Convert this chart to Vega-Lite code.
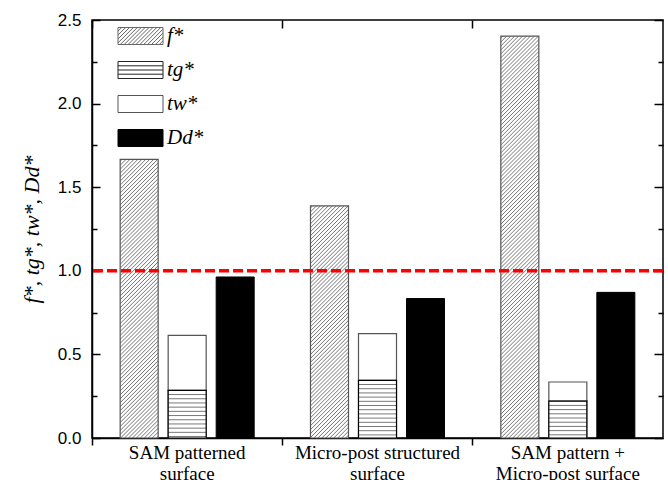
{
 "$schema": "https://vega.github.io/schema/vega-lite/v6.json",
 "width": 571, "height": 418,
 "autosize": {"type": "none"},
 "padding": {"left": 92, "top": 20, "right": 5, "bottom": 42},
 "background": "white",
 "config": {
  "view": {"stroke": "black", "strokeWidth": 1.5},
  "axis": {"domainColor": "black", "domainWidth": 1.5, "tickColor": "black", "tickWidth": 1.5, "labelColor": "black", "titleColor": "black", "grid": false}
 },
 "data": {"values": [
  {"group": "SAM patterned|surface", "slot": "f", "series": "f*", "value": 1.667},
  {"group": "SAM patterned|surface", "slot": "t", "series": "tg*", "value": 0.285},
  {"group": "SAM patterned|surface", "slot": "t", "series": "tw*", "value": 0.329},
  {"group": "SAM patterned|surface", "slot": "D", "series": "Dd*", "value": 0.963},
  {"group": "Micro-post structured|surface", "slot": "f", "series": "f*", "value": 1.388},
  {"group": "Micro-post structured|surface", "slot": "t", "series": "tg*", "value": 0.345},
  {"group": "Micro-post structured|surface", "slot": "t", "series": "tw*", "value": 0.279},
  {"group": "Micro-post structured|surface", "slot": "D", "series": "Dd*", "value": 0.834},
  {"group": "SAM pattern +|Micro-post surface", "slot": "f", "series": "f*", "value": 2.404},
  {"group": "SAM pattern +|Micro-post surface", "slot": "t", "series": "tg*", "value": 0.22},
  {"group": "SAM pattern +|Micro-post surface", "slot": "t", "series": "tw*", "value": 0.115},
  {"group": "SAM pattern +|Micro-post surface", "slot": "D", "series": "Dd*", "value": 0.871}
 ]},
 "resolve": {"axis": {"x": "independent", "y": "independent"}},
 "layer": [
  {
   "transform": [{"filter": "datum.slot === 't'"}],
   "mark": {"type": "bar", "fill": "#ffffff", "stroke": "#555555", "strokeWidth": 1.2},
   "encoding": {
    "x": {"field": "group", "type": "nominal", "scale": {"domain": ["SAM patterned|surface", "Micro-post structured|surface", "SAM pattern +|Micro-post surface"], "paddingInner": 0, "paddingOuter": 0}, "title": null,
     "axis": {"orient": "bottom", "bandPosition": 0, "labelOffset": 0, "labelAngle": 0, "labelExpr": "split(datum.label, '|')", "labelFont": "Liberation Serif", "labelFontSize": 19, "labelLineHeight": 21, "labelPadding": -2, "labelBaseline": "top", "tickSize": 7, "domain": true}},
    "xOffset": {"field": "slot", "type": "nominal", "scale": {"domain": ["f", "t", "D"], "paddingInner": 0.2083, "paddingOuter": 0.5865}},
    "y": {"field": "value", "type": "quantitative", "stack": "zero", "scale": {"domain": [0, 2.5], "nice": false},
     "axis": {"orient": "left", "values": [0, 0.25, 0.5, 0.75, 1, 1.25, 1.5, 1.75, 2, 2.25, 2.5], "labelExpr": "datum.value % 0.5 == 0 ? format(datum.value, '.1f') : ''", "tickSize": {"condition": {"test": "datum.value % 0.5 == 0", "value": -8}, "value": -5}, "labelPadding": 19, "labelFont": "Liberation Sans", "labelFontSize": 17, "domain": true,
      "title": "f*, tg*, tw*, Dd*", "titleFont": "Liberation Serif", "titleFontStyle": "italic", "titleFontWeight": "normal", "titleFontSize": 22, "titleX": -61, "titleY": 209, "titleAngle": 270, "titleBaseline": "middle", "titleAlign": "center"}},
    "detail": {"field": "series"},
    "order": {"field": "series", "sort": "ascending"}
   }
  },
  {
   "transform": [{"filter": "datum.series === 'tg*' && datum.group === 'SAM patterned|surface'"}],
   "mark": {"type": "bar", "stroke": "#000000", "strokeWidth": 1.2, "fill": {"gradient": "linear", "x1": 0, "y1": 0, "x2": 0, "y2": 1, "stops": [
    {"offset":0.0671,"color":"#fff"},{"offset":0.0881,"color":"#777"},{"offset":0.1091,"color":"#fff"},
    {"offset":0.1553,"color":"#fff"},{"offset":0.1763,"color":"#777"},{"offset":0.1973,"color":"#fff"},
    {"offset":0.2434,"color":"#fff"},{"offset":0.2644,"color":"#777"},{"offset":0.2854,"color":"#fff"},
    {"offset":0.3316,"color":"#fff"},{"offset":0.3526,"color":"#777"},{"offset":0.3736,"color":"#fff"},
    {"offset":0.4197,"color":"#fff"},{"offset":0.4407,"color":"#777"},{"offset":0.4617,"color":"#fff"},
    {"offset":0.5078,"color":"#fff"},{"offset":0.5288,"color":"#777"},{"offset":0.5498,"color":"#fff"},
    {"offset":0.596,"color":"#fff"},{"offset":0.617,"color":"#777"},{"offset":0.638,"color":"#fff"},
    {"offset":0.6841,"color":"#fff"},{"offset":0.7051,"color":"#777"},{"offset":0.7261,"color":"#fff"},
    {"offset":0.7723,"color":"#fff"},{"offset":0.7933,"color":"#777"},{"offset":0.8143,"color":"#fff"},
    {"offset":0.8604,"color":"#fff"},{"offset":0.8814,"color":"#777"},{"offset":0.9024,"color":"#fff"},
    {"offset":0.9485,"color":"#fff"},{"offset":0.9695,"color":"#777"},{"offset":0.9905,"color":"#fff"}]}},
   "encoding": {
    "x": {"field": "group", "type": "nominal", "scale": {"domain": ["SAM patterned|surface", "Micro-post structured|surface", "SAM pattern +|Micro-post surface"], "paddingInner": 0, "paddingOuter": 0}, "axis": null},
    "xOffset": {"field": "slot", "type": "nominal", "scale": {"domain": ["f", "t", "D"], "paddingInner": 0.2083, "paddingOuter": 0.5865}},
    "y": {"field": "value", "type": "quantitative", "scale": {"domain": [0, 2.5], "nice": false}, "axis": null}
   }
  },
  {
   "transform": [{"filter": "datum.series === 'tg*' && datum.group === 'Micro-post structured|surface'"}],
   "mark": {"type": "bar", "stroke": "#000000", "strokeWidth": 1.2, "fill": {"gradient": "linear", "x1": 0, "y1": 0, "x2": 0, "y2": 1, "stops": [
    {"offset":0.0558,"color":"#fff"},{"offset":0.0728,"color":"#777"},{"offset":0.0898,"color":"#fff"},
    {"offset":0.1286,"color":"#fff"},{"offset":0.1456,"color":"#777"},{"offset":0.1626,"color":"#fff"},
    {"offset":0.2014,"color":"#fff"},{"offset":0.2184,"color":"#777"},{"offset":0.2354,"color":"#fff"},
    {"offset":0.2742,"color":"#fff"},{"offset":0.2912,"color":"#777"},{"offset":0.3082,"color":"#fff"},
    {"offset":0.347,"color":"#fff"},{"offset":0.364,"color":"#777"},{"offset":0.381,"color":"#fff"},
    {"offset":0.4198,"color":"#fff"},{"offset":0.4368,"color":"#777"},{"offset":0.4538,"color":"#fff"},
    {"offset":0.4926,"color":"#fff"},{"offset":0.5096,"color":"#777"},{"offset":0.5266,"color":"#fff"},
    {"offset":0.5654,"color":"#fff"},{"offset":0.5824,"color":"#777"},{"offset":0.5994,"color":"#fff"},
    {"offset":0.6382,"color":"#fff"},{"offset":0.6552,"color":"#777"},{"offset":0.6722,"color":"#fff"},
    {"offset":0.711,"color":"#fff"},{"offset":0.728,"color":"#777"},{"offset":0.745,"color":"#fff"},
    {"offset":0.7838,"color":"#fff"},{"offset":0.8008,"color":"#777"},{"offset":0.8178,"color":"#fff"},
    {"offset":0.8566,"color":"#fff"},{"offset":0.8736,"color":"#777"},{"offset":0.8906,"color":"#fff"},
    {"offset":0.9294,"color":"#fff"},{"offset":0.9464,"color":"#777"},{"offset":0.9634,"color":"#fff"}]}},
   "encoding": {
    "x": {"field": "group", "type": "nominal", "scale": {"domain": ["SAM patterned|surface", "Micro-post structured|surface", "SAM pattern +|Micro-post surface"], "paddingInner": 0, "paddingOuter": 0}, "axis": null},
    "xOffset": {"field": "slot", "type": "nominal", "scale": {"domain": ["f", "t", "D"], "paddingInner": 0.2083, "paddingOuter": 0.5865}},
    "y": {"field": "value", "type": "quantitative", "scale": {"domain": [0, 2.5], "nice": false}, "axis": null}
   }
  },
  {
   "transform": [{"filter": "datum.series === 'tg*' && datum.group === 'SAM pattern +|Micro-post surface'"}],
   "mark": {"type": "bar", "stroke": "#000000", "strokeWidth": 1.2, "fill": {"gradient": "linear", "x1": 0, "y1": 0, "x2": 0, "y2": 1, "stops": [
    {"offset":0.0871,"color":"#fff"},{"offset":0.1141,"color":"#777"},{"offset":0.1411,"color":"#fff"},
    {"offset":0.2013,"color":"#fff"},{"offset":0.2283,"color":"#777"},{"offset":0.2553,"color":"#fff"},
    {"offset":0.3154,"color":"#fff"},{"offset":0.3424,"color":"#777"},{"offset":0.3694,"color":"#fff"},
    {"offset":0.4295,"color":"#fff"},{"offset":0.4565,"color":"#777"},{"offset":0.4835,"color":"#fff"},
    {"offset":0.5437,"color":"#fff"},{"offset":0.5707,"color":"#777"},{"offset":0.5977,"color":"#fff"},
    {"offset":0.6578,"color":"#fff"},{"offset":0.6848,"color":"#777"},{"offset":0.7118,"color":"#fff"},
    {"offset":0.7719,"color":"#fff"},{"offset":0.7989,"color":"#777"},{"offset":0.8259,"color":"#fff"},
    {"offset":0.886,"color":"#fff"},{"offset":0.913,"color":"#777"},{"offset":0.94,"color":"#fff"}]}},
   "encoding": {
    "x": {"field": "group", "type": "nominal", "scale": {"domain": ["SAM patterned|surface", "Micro-post structured|surface", "SAM pattern +|Micro-post surface"], "paddingInner": 0, "paddingOuter": 0}, "axis": null},
    "xOffset": {"field": "slot", "type": "nominal", "scale": {"domain": ["f", "t", "D"], "paddingInner": 0.2083, "paddingOuter": 0.5865}},
    "y": {"field": "value", "type": "quantitative", "scale": {"domain": [0, 2.5], "nice": false}, "axis": null}
   }
  },
  {
   "transform": [{"filter": "datum.series === 'f*' && datum.group === 'SAM patterned|surface'"}],
   "mark": {"type": "bar", "stroke": "#555555", "strokeWidth": 1.2, "fill": {"gradient": "linear", "x1": 0, "y1": 0, "x2": 0.1521, "y2": 1.1156, "stops": [
    {"offset":0.003,"color":"#fff"},{"offset":0.0063,"color":"#777"},{"offset":0.0095,"color":"#fff"},{"offset":0.0155,"color":"#fff"},{"offset":0.0188,"color":"#777"},{"offset":0.022,"color":"#fff"},{"offset":0.028,"color":"#fff"},{"offset":0.0313,"color":"#777"},{"offset":0.0345,"color":"#fff"},{"offset":0.0405,"color":"#fff"},{"offset":0.0438,"color":"#777"},{"offset":0.047,"color":"#fff"},
    {"offset":0.053,"color":"#fff"},{"offset":0.0563,"color":"#777"},{"offset":0.0595,"color":"#fff"},{"offset":0.0655,"color":"#fff"},{"offset":0.0688,"color":"#777"},{"offset":0.072,"color":"#fff"},{"offset":0.078,"color":"#fff"},{"offset":0.0813,"color":"#777"},{"offset":0.0845,"color":"#fff"},{"offset":0.0905,"color":"#fff"},{"offset":0.0938,"color":"#777"},{"offset":0.097,"color":"#fff"},
    {"offset":0.103,"color":"#fff"},{"offset":0.1063,"color":"#777"},{"offset":0.1095,"color":"#fff"},{"offset":0.1155,"color":"#fff"},{"offset":0.1188,"color":"#777"},{"offset":0.122,"color":"#fff"},{"offset":0.128,"color":"#fff"},{"offset":0.1313,"color":"#777"},{"offset":0.1345,"color":"#fff"},{"offset":0.1405,"color":"#fff"},{"offset":0.1438,"color":"#777"},{"offset":0.147,"color":"#fff"},
    {"offset":0.153,"color":"#fff"},{"offset":0.1563,"color":"#777"},{"offset":0.1595,"color":"#fff"},{"offset":0.1655,"color":"#fff"},{"offset":0.1688,"color":"#777"},{"offset":0.172,"color":"#fff"},{"offset":0.178,"color":"#fff"},{"offset":0.1813,"color":"#777"},{"offset":0.1845,"color":"#fff"},{"offset":0.1905,"color":"#fff"},{"offset":0.1938,"color":"#777"},{"offset":0.197,"color":"#fff"},
    {"offset":0.203,"color":"#fff"},{"offset":0.2063,"color":"#777"},{"offset":0.2095,"color":"#fff"},{"offset":0.2155,"color":"#fff"},{"offset":0.2188,"color":"#777"},{"offset":0.222,"color":"#fff"},{"offset":0.228,"color":"#fff"},{"offset":0.2313,"color":"#777"},{"offset":0.2345,"color":"#fff"},{"offset":0.2405,"color":"#fff"},{"offset":0.2438,"color":"#777"},{"offset":0.247,"color":"#fff"},
    {"offset":0.253,"color":"#fff"},{"offset":0.2563,"color":"#777"},{"offset":0.2595,"color":"#fff"},{"offset":0.2655,"color":"#fff"},{"offset":0.2688,"color":"#777"},{"offset":0.272,"color":"#fff"},{"offset":0.278,"color":"#fff"},{"offset":0.2813,"color":"#777"},{"offset":0.2845,"color":"#fff"},{"offset":0.2905,"color":"#fff"},{"offset":0.2938,"color":"#777"},{"offset":0.297,"color":"#fff"},
    {"offset":0.303,"color":"#fff"},{"offset":0.3063,"color":"#777"},{"offset":0.3095,"color":"#fff"},{"offset":0.3155,"color":"#fff"},{"offset":0.3188,"color":"#777"},{"offset":0.322,"color":"#fff"},{"offset":0.328,"color":"#fff"},{"offset":0.3313,"color":"#777"},{"offset":0.3345,"color":"#fff"},{"offset":0.3405,"color":"#fff"},{"offset":0.3438,"color":"#777"},{"offset":0.347,"color":"#fff"},
    {"offset":0.353,"color":"#fff"},{"offset":0.3563,"color":"#777"},{"offset":0.3595,"color":"#fff"},{"offset":0.3655,"color":"#fff"},{"offset":0.3688,"color":"#777"},{"offset":0.372,"color":"#fff"},{"offset":0.378,"color":"#fff"},{"offset":0.3813,"color":"#777"},{"offset":0.3845,"color":"#fff"},{"offset":0.3905,"color":"#fff"},{"offset":0.3938,"color":"#777"},{"offset":0.397,"color":"#fff"},
    {"offset":0.403,"color":"#fff"},{"offset":0.4063,"color":"#777"},{"offset":0.4095,"color":"#fff"},{"offset":0.4155,"color":"#fff"},{"offset":0.4188,"color":"#777"},{"offset":0.422,"color":"#fff"},{"offset":0.428,"color":"#fff"},{"offset":0.4313,"color":"#777"},{"offset":0.4345,"color":"#fff"},{"offset":0.4405,"color":"#fff"},{"offset":0.4438,"color":"#777"},{"offset":0.447,"color":"#fff"},
    {"offset":0.453,"color":"#fff"},{"offset":0.4563,"color":"#777"},{"offset":0.4595,"color":"#fff"},{"offset":0.4655,"color":"#fff"},{"offset":0.4688,"color":"#777"},{"offset":0.472,"color":"#fff"},{"offset":0.478,"color":"#fff"},{"offset":0.4813,"color":"#777"},{"offset":0.4845,"color":"#fff"},{"offset":0.4905,"color":"#fff"},{"offset":0.4938,"color":"#777"},{"offset":0.497,"color":"#fff"},
    {"offset":0.503,"color":"#fff"},{"offset":0.5063,"color":"#777"},{"offset":0.5095,"color":"#fff"},{"offset":0.5155,"color":"#fff"},{"offset":0.5188,"color":"#777"},{"offset":0.522,"color":"#fff"},{"offset":0.528,"color":"#fff"},{"offset":0.5313,"color":"#777"},{"offset":0.5345,"color":"#fff"},{"offset":0.5405,"color":"#fff"},{"offset":0.5438,"color":"#777"},{"offset":0.547,"color":"#fff"},
    {"offset":0.553,"color":"#fff"},{"offset":0.5563,"color":"#777"},{"offset":0.5595,"color":"#fff"},{"offset":0.5655,"color":"#fff"},{"offset":0.5688,"color":"#777"},{"offset":0.572,"color":"#fff"},{"offset":0.578,"color":"#fff"},{"offset":0.5813,"color":"#777"},{"offset":0.5845,"color":"#fff"},{"offset":0.5905,"color":"#fff"},{"offset":0.5938,"color":"#777"},{"offset":0.597,"color":"#fff"},
    {"offset":0.603,"color":"#fff"},{"offset":0.6063,"color":"#777"},{"offset":0.6095,"color":"#fff"},{"offset":0.6155,"color":"#fff"},{"offset":0.6188,"color":"#777"},{"offset":0.622,"color":"#fff"},{"offset":0.628,"color":"#fff"},{"offset":0.6313,"color":"#777"},{"offset":0.6345,"color":"#fff"},{"offset":0.6405,"color":"#fff"},{"offset":0.6438,"color":"#777"},{"offset":0.647,"color":"#fff"},
    {"offset":0.653,"color":"#fff"},{"offset":0.6563,"color":"#777"},{"offset":0.6595,"color":"#fff"},{"offset":0.6655,"color":"#fff"},{"offset":0.6688,"color":"#777"},{"offset":0.672,"color":"#fff"},{"offset":0.678,"color":"#fff"},{"offset":0.6813,"color":"#777"},{"offset":0.6845,"color":"#fff"},{"offset":0.6905,"color":"#fff"},{"offset":0.6938,"color":"#777"},{"offset":0.697,"color":"#fff"},
    {"offset":0.703,"color":"#fff"},{"offset":0.7063,"color":"#777"},{"offset":0.7095,"color":"#fff"},{"offset":0.7155,"color":"#fff"},{"offset":0.7188,"color":"#777"},{"offset":0.722,"color":"#fff"},{"offset":0.728,"color":"#fff"},{"offset":0.7313,"color":"#777"},{"offset":0.7345,"color":"#fff"},{"offset":0.7405,"color":"#fff"},{"offset":0.7438,"color":"#777"},{"offset":0.747,"color":"#fff"},
    {"offset":0.753,"color":"#fff"},{"offset":0.7563,"color":"#777"},{"offset":0.7595,"color":"#fff"},{"offset":0.7655,"color":"#fff"},{"offset":0.7688,"color":"#777"},{"offset":0.772,"color":"#fff"},{"offset":0.778,"color":"#fff"},{"offset":0.7813,"color":"#777"},{"offset":0.7845,"color":"#fff"},{"offset":0.7905,"color":"#fff"},{"offset":0.7938,"color":"#777"},{"offset":0.797,"color":"#fff"},
    {"offset":0.803,"color":"#fff"},{"offset":0.8063,"color":"#777"},{"offset":0.8095,"color":"#fff"},{"offset":0.8155,"color":"#fff"},{"offset":0.8188,"color":"#777"},{"offset":0.822,"color":"#fff"},{"offset":0.828,"color":"#fff"},{"offset":0.8313,"color":"#777"},{"offset":0.8345,"color":"#fff"},{"offset":0.8405,"color":"#fff"},{"offset":0.8438,"color":"#777"},{"offset":0.847,"color":"#fff"},
    {"offset":0.853,"color":"#fff"},{"offset":0.8563,"color":"#777"},{"offset":0.8595,"color":"#fff"},{"offset":0.8655,"color":"#fff"},{"offset":0.8688,"color":"#777"},{"offset":0.872,"color":"#fff"},{"offset":0.878,"color":"#fff"},{"offset":0.8813,"color":"#777"},{"offset":0.8845,"color":"#fff"},{"offset":0.8905,"color":"#fff"},{"offset":0.8938,"color":"#777"},{"offset":0.897,"color":"#fff"},
    {"offset":0.903,"color":"#fff"},{"offset":0.9063,"color":"#777"},{"offset":0.9095,"color":"#fff"},{"offset":0.9155,"color":"#fff"},{"offset":0.9188,"color":"#777"},{"offset":0.922,"color":"#fff"},{"offset":0.928,"color":"#fff"},{"offset":0.9313,"color":"#777"},{"offset":0.9345,"color":"#fff"},{"offset":0.9405,"color":"#fff"},{"offset":0.9438,"color":"#777"},{"offset":0.947,"color":"#fff"},
    {"offset":0.953,"color":"#fff"},{"offset":0.9563,"color":"#777"},{"offset":0.9595,"color":"#fff"},{"offset":0.9655,"color":"#fff"},{"offset":0.9688,"color":"#777"},{"offset":0.972,"color":"#fff"},{"offset":0.978,"color":"#fff"},{"offset":0.9813,"color":"#777"},{"offset":0.9845,"color":"#fff"},{"offset":0.9905,"color":"#fff"},{"offset":0.9938,"color":"#777"},{"offset":0.997,"color":"#fff"}]}},
   "encoding": {
    "x": {"field": "group", "type": "nominal", "scale": {"domain": ["SAM patterned|surface", "Micro-post structured|surface", "SAM pattern +|Micro-post surface"], "paddingInner": 0, "paddingOuter": 0}, "axis": null},
    "xOffset": {"field": "slot", "type": "nominal", "scale": {"domain": ["f", "t", "D"], "paddingInner": 0.2083, "paddingOuter": 0.5865}},
    "y": {"field": "value", "type": "quantitative", "scale": {"domain": [0, 2.5], "nice": false}, "axis": null}
   }
  },
  {
   "transform": [{"filter": "datum.series === 'f*' && datum.group === 'Micro-post structured|surface'"}],
   "mark": {"type": "bar", "stroke": "#555555", "strokeWidth": 1.2, "fill": {"gradient": "linear", "x1": 0, "y1": 0, "x2": 0.2176, "y2": 1.3291, "stops": [
    {"offset":0.003,"color":"#fff"},{"offset":0.0063,"color":"#777"},{"offset":0.0095,"color":"#fff"},{"offset":0.0155,"color":"#fff"},{"offset":0.0188,"color":"#777"},{"offset":0.022,"color":"#fff"},{"offset":0.028,"color":"#fff"},{"offset":0.0313,"color":"#777"},{"offset":0.0345,"color":"#fff"},{"offset":0.0405,"color":"#fff"},{"offset":0.0438,"color":"#777"},{"offset":0.047,"color":"#fff"},
    {"offset":0.053,"color":"#fff"},{"offset":0.0563,"color":"#777"},{"offset":0.0595,"color":"#fff"},{"offset":0.0655,"color":"#fff"},{"offset":0.0688,"color":"#777"},{"offset":0.072,"color":"#fff"},{"offset":0.078,"color":"#fff"},{"offset":0.0813,"color":"#777"},{"offset":0.0845,"color":"#fff"},{"offset":0.0905,"color":"#fff"},{"offset":0.0938,"color":"#777"},{"offset":0.097,"color":"#fff"},
    {"offset":0.103,"color":"#fff"},{"offset":0.1063,"color":"#777"},{"offset":0.1095,"color":"#fff"},{"offset":0.1155,"color":"#fff"},{"offset":0.1188,"color":"#777"},{"offset":0.122,"color":"#fff"},{"offset":0.128,"color":"#fff"},{"offset":0.1313,"color":"#777"},{"offset":0.1345,"color":"#fff"},{"offset":0.1405,"color":"#fff"},{"offset":0.1438,"color":"#777"},{"offset":0.147,"color":"#fff"},
    {"offset":0.153,"color":"#fff"},{"offset":0.1563,"color":"#777"},{"offset":0.1595,"color":"#fff"},{"offset":0.1655,"color":"#fff"},{"offset":0.1688,"color":"#777"},{"offset":0.172,"color":"#fff"},{"offset":0.178,"color":"#fff"},{"offset":0.1813,"color":"#777"},{"offset":0.1845,"color":"#fff"},{"offset":0.1905,"color":"#fff"},{"offset":0.1938,"color":"#777"},{"offset":0.197,"color":"#fff"},
    {"offset":0.203,"color":"#fff"},{"offset":0.2063,"color":"#777"},{"offset":0.2095,"color":"#fff"},{"offset":0.2155,"color":"#fff"},{"offset":0.2188,"color":"#777"},{"offset":0.222,"color":"#fff"},{"offset":0.228,"color":"#fff"},{"offset":0.2313,"color":"#777"},{"offset":0.2345,"color":"#fff"},{"offset":0.2405,"color":"#fff"},{"offset":0.2438,"color":"#777"},{"offset":0.247,"color":"#fff"},
    {"offset":0.253,"color":"#fff"},{"offset":0.2563,"color":"#777"},{"offset":0.2595,"color":"#fff"},{"offset":0.2655,"color":"#fff"},{"offset":0.2688,"color":"#777"},{"offset":0.272,"color":"#fff"},{"offset":0.278,"color":"#fff"},{"offset":0.2813,"color":"#777"},{"offset":0.2845,"color":"#fff"},{"offset":0.2905,"color":"#fff"},{"offset":0.2938,"color":"#777"},{"offset":0.297,"color":"#fff"},
    {"offset":0.303,"color":"#fff"},{"offset":0.3063,"color":"#777"},{"offset":0.3095,"color":"#fff"},{"offset":0.3155,"color":"#fff"},{"offset":0.3188,"color":"#777"},{"offset":0.322,"color":"#fff"},{"offset":0.328,"color":"#fff"},{"offset":0.3313,"color":"#777"},{"offset":0.3345,"color":"#fff"},{"offset":0.3405,"color":"#fff"},{"offset":0.3438,"color":"#777"},{"offset":0.347,"color":"#fff"},
    {"offset":0.353,"color":"#fff"},{"offset":0.3563,"color":"#777"},{"offset":0.3595,"color":"#fff"},{"offset":0.3655,"color":"#fff"},{"offset":0.3688,"color":"#777"},{"offset":0.372,"color":"#fff"},{"offset":0.378,"color":"#fff"},{"offset":0.3813,"color":"#777"},{"offset":0.3845,"color":"#fff"},{"offset":0.3905,"color":"#fff"},{"offset":0.3938,"color":"#777"},{"offset":0.397,"color":"#fff"},
    {"offset":0.403,"color":"#fff"},{"offset":0.4063,"color":"#777"},{"offset":0.4095,"color":"#fff"},{"offset":0.4155,"color":"#fff"},{"offset":0.4188,"color":"#777"},{"offset":0.422,"color":"#fff"},{"offset":0.428,"color":"#fff"},{"offset":0.4313,"color":"#777"},{"offset":0.4345,"color":"#fff"},{"offset":0.4405,"color":"#fff"},{"offset":0.4438,"color":"#777"},{"offset":0.447,"color":"#fff"},
    {"offset":0.453,"color":"#fff"},{"offset":0.4563,"color":"#777"},{"offset":0.4595,"color":"#fff"},{"offset":0.4655,"color":"#fff"},{"offset":0.4688,"color":"#777"},{"offset":0.472,"color":"#fff"},{"offset":0.478,"color":"#fff"},{"offset":0.4813,"color":"#777"},{"offset":0.4845,"color":"#fff"},{"offset":0.4905,"color":"#fff"},{"offset":0.4938,"color":"#777"},{"offset":0.497,"color":"#fff"},
    {"offset":0.503,"color":"#fff"},{"offset":0.5063,"color":"#777"},{"offset":0.5095,"color":"#fff"},{"offset":0.5155,"color":"#fff"},{"offset":0.5188,"color":"#777"},{"offset":0.522,"color":"#fff"},{"offset":0.528,"color":"#fff"},{"offset":0.5313,"color":"#777"},{"offset":0.5345,"color":"#fff"},{"offset":0.5405,"color":"#fff"},{"offset":0.5438,"color":"#777"},{"offset":0.547,"color":"#fff"},
    {"offset":0.553,"color":"#fff"},{"offset":0.5563,"color":"#777"},{"offset":0.5595,"color":"#fff"},{"offset":0.5655,"color":"#fff"},{"offset":0.5688,"color":"#777"},{"offset":0.572,"color":"#fff"},{"offset":0.578,"color":"#fff"},{"offset":0.5813,"color":"#777"},{"offset":0.5845,"color":"#fff"},{"offset":0.5905,"color":"#fff"},{"offset":0.5938,"color":"#777"},{"offset":0.597,"color":"#fff"},
    {"offset":0.603,"color":"#fff"},{"offset":0.6063,"color":"#777"},{"offset":0.6095,"color":"#fff"},{"offset":0.6155,"color":"#fff"},{"offset":0.6188,"color":"#777"},{"offset":0.622,"color":"#fff"},{"offset":0.628,"color":"#fff"},{"offset":0.6313,"color":"#777"},{"offset":0.6345,"color":"#fff"},{"offset":0.6405,"color":"#fff"},{"offset":0.6438,"color":"#777"},{"offset":0.647,"color":"#fff"},
    {"offset":0.653,"color":"#fff"},{"offset":0.6563,"color":"#777"},{"offset":0.6595,"color":"#fff"},{"offset":0.6655,"color":"#fff"},{"offset":0.6688,"color":"#777"},{"offset":0.672,"color":"#fff"},{"offset":0.678,"color":"#fff"},{"offset":0.6813,"color":"#777"},{"offset":0.6845,"color":"#fff"},{"offset":0.6905,"color":"#fff"},{"offset":0.6938,"color":"#777"},{"offset":0.697,"color":"#fff"},
    {"offset":0.703,"color":"#fff"},{"offset":0.7063,"color":"#777"},{"offset":0.7095,"color":"#fff"},{"offset":0.7155,"color":"#fff"},{"offset":0.7188,"color":"#777"},{"offset":0.722,"color":"#fff"},{"offset":0.728,"color":"#fff"},{"offset":0.7313,"color":"#777"},{"offset":0.7345,"color":"#fff"},{"offset":0.7405,"color":"#fff"},{"offset":0.7438,"color":"#777"},{"offset":0.747,"color":"#fff"},
    {"offset":0.753,"color":"#fff"},{"offset":0.7563,"color":"#777"},{"offset":0.7595,"color":"#fff"},{"offset":0.7655,"color":"#fff"},{"offset":0.7688,"color":"#777"},{"offset":0.772,"color":"#fff"},{"offset":0.778,"color":"#fff"},{"offset":0.7813,"color":"#777"},{"offset":0.7845,"color":"#fff"},{"offset":0.7905,"color":"#fff"},{"offset":0.7938,"color":"#777"},{"offset":0.797,"color":"#fff"},
    {"offset":0.803,"color":"#fff"},{"offset":0.8063,"color":"#777"},{"offset":0.8095,"color":"#fff"},{"offset":0.8155,"color":"#fff"},{"offset":0.8188,"color":"#777"},{"offset":0.822,"color":"#fff"},{"offset":0.828,"color":"#fff"},{"offset":0.8313,"color":"#777"},{"offset":0.8345,"color":"#fff"},{"offset":0.8405,"color":"#fff"},{"offset":0.8438,"color":"#777"},{"offset":0.847,"color":"#fff"},
    {"offset":0.853,"color":"#fff"},{"offset":0.8563,"color":"#777"},{"offset":0.8595,"color":"#fff"}]}},
   "encoding": {
    "x": {"field": "group", "type": "nominal", "scale": {"domain": ["SAM patterned|surface", "Micro-post structured|surface", "SAM pattern +|Micro-post surface"], "paddingInner": 0, "paddingOuter": 0}, "axis": null},
    "xOffset": {"field": "slot", "type": "nominal", "scale": {"domain": ["f", "t", "D"], "paddingInner": 0.2083, "paddingOuter": 0.5865}},
    "y": {"field": "value", "type": "quantitative", "scale": {"domain": [0, 2.5], "nice": false}, "axis": null}
   }
  },
  {
   "transform": [{"filter": "datum.series === 'f*' && datum.group === 'SAM pattern +|Micro-post surface'"}],
   "mark": {"type": "bar", "stroke": "#555555", "strokeWidth": 1.2, "fill": {"gradient": "linear", "x1": 0, "y1": 0, "x2": 0.1026, "y2": 1.0849, "stops": [
    {"offset":0.0022,"color":"#fff"},{"offset":0.0045,"color":"#777"},{"offset":0.0068,"color":"#fff"},
    {"offset":0.0112,"color":"#fff"},{"offset":0.0135,"color":"#777"},{"offset":0.0158,"color":"#fff"},
    {"offset":0.0202,"color":"#fff"},{"offset":0.0225,"color":"#777"},{"offset":0.0248,"color":"#fff"},
    {"offset":0.0292,"color":"#fff"},{"offset":0.0315,"color":"#777"},{"offset":0.0338,"color":"#fff"},
    {"offset":0.0382,"color":"#fff"},{"offset":0.0405,"color":"#777"},{"offset":0.0428,"color":"#fff"},
    {"offset":0.0472,"color":"#fff"},{"offset":0.0495,"color":"#777"},{"offset":0.0518,"color":"#fff"},
    {"offset":0.0562,"color":"#fff"},{"offset":0.0585,"color":"#777"},{"offset":0.0608,"color":"#fff"},
    {"offset":0.0652,"color":"#fff"},{"offset":0.0675,"color":"#777"},{"offset":0.0698,"color":"#fff"},
    {"offset":0.0742,"color":"#fff"},{"offset":0.0765,"color":"#777"},{"offset":0.0788,"color":"#fff"},
    {"offset":0.0832,"color":"#fff"},{"offset":0.0855,"color":"#777"},{"offset":0.0878,"color":"#fff"},
    {"offset":0.0922,"color":"#fff"},{"offset":0.0945,"color":"#777"},{"offset":0.0968,"color":"#fff"},
    {"offset":0.1012,"color":"#fff"},{"offset":0.1035,"color":"#777"},{"offset":0.1058,"color":"#fff"},
    {"offset":0.1102,"color":"#fff"},{"offset":0.1125,"color":"#777"},{"offset":0.1148,"color":"#fff"},
    {"offset":0.1192,"color":"#fff"},{"offset":0.1215,"color":"#777"},{"offset":0.1238,"color":"#fff"},
    {"offset":0.1282,"color":"#fff"},{"offset":0.1305,"color":"#777"},{"offset":0.1328,"color":"#fff"},
    {"offset":0.1372,"color":"#fff"},{"offset":0.1395,"color":"#777"},{"offset":0.1418,"color":"#fff"},
    {"offset":0.1462,"color":"#fff"},{"offset":0.1485,"color":"#777"},{"offset":0.1508,"color":"#fff"},
    {"offset":0.1552,"color":"#fff"},{"offset":0.1575,"color":"#777"},{"offset":0.1598,"color":"#fff"},
    {"offset":0.1642,"color":"#fff"},{"offset":0.1665,"color":"#777"},{"offset":0.1688,"color":"#fff"},
    {"offset":0.1732,"color":"#fff"},{"offset":0.1755,"color":"#777"},{"offset":0.1778,"color":"#fff"},
    {"offset":0.1822,"color":"#fff"},{"offset":0.1845,"color":"#777"},{"offset":0.1868,"color":"#fff"},
    {"offset":0.1912,"color":"#fff"},{"offset":0.1935,"color":"#777"},{"offset":0.1958,"color":"#fff"},
    {"offset":0.2002,"color":"#fff"},{"offset":0.2025,"color":"#777"},{"offset":0.2048,"color":"#fff"},
    {"offset":0.2092,"color":"#fff"},{"offset":0.2115,"color":"#777"},{"offset":0.2138,"color":"#fff"},
    {"offset":0.2182,"color":"#fff"},{"offset":0.2205,"color":"#777"},{"offset":0.2228,"color":"#fff"},
    {"offset":0.2272,"color":"#fff"},{"offset":0.2295,"color":"#777"},{"offset":0.2318,"color":"#fff"},
    {"offset":0.2362,"color":"#fff"},{"offset":0.2385,"color":"#777"},{"offset":0.2408,"color":"#fff"},
    {"offset":0.2452,"color":"#fff"},{"offset":0.2475,"color":"#777"},{"offset":0.2498,"color":"#fff"},
    {"offset":0.2542,"color":"#fff"},{"offset":0.2565,"color":"#777"},{"offset":0.2588,"color":"#fff"},
    {"offset":0.2632,"color":"#fff"},{"offset":0.2655,"color":"#777"},{"offset":0.2678,"color":"#fff"},
    {"offset":0.2722,"color":"#fff"},{"offset":0.2745,"color":"#777"},{"offset":0.2768,"color":"#fff"},
    {"offset":0.2812,"color":"#fff"},{"offset":0.2835,"color":"#777"},{"offset":0.2858,"color":"#fff"},
    {"offset":0.2902,"color":"#fff"},{"offset":0.2925,"color":"#777"},{"offset":0.2948,"color":"#fff"},
    {"offset":0.2992,"color":"#fff"},{"offset":0.3015,"color":"#777"},{"offset":0.3038,"color":"#fff"},
    {"offset":0.3082,"color":"#fff"},{"offset":0.3105,"color":"#777"},{"offset":0.3128,"color":"#fff"},
    {"offset":0.3172,"color":"#fff"},{"offset":0.3195,"color":"#777"},{"offset":0.3218,"color":"#fff"},
    {"offset":0.3262,"color":"#fff"},{"offset":0.3285,"color":"#777"},{"offset":0.3308,"color":"#fff"},
    {"offset":0.3352,"color":"#fff"},{"offset":0.3375,"color":"#777"},{"offset":0.3398,"color":"#fff"},
    {"offset":0.3442,"color":"#fff"},{"offset":0.3465,"color":"#777"},{"offset":0.3488,"color":"#fff"},
    {"offset":0.3532,"color":"#fff"},{"offset":0.3555,"color":"#777"},{"offset":0.3578,"color":"#fff"},
    {"offset":0.3622,"color":"#fff"},{"offset":0.3645,"color":"#777"},{"offset":0.3668,"color":"#fff"},
    {"offset":0.3712,"color":"#fff"},{"offset":0.3735,"color":"#777"},{"offset":0.3758,"color":"#fff"},
    {"offset":0.3802,"color":"#fff"},{"offset":0.3825,"color":"#777"},{"offset":0.3848,"color":"#fff"},
    {"offset":0.3892,"color":"#fff"},{"offset":0.3915,"color":"#777"},{"offset":0.3938,"color":"#fff"},
    {"offset":0.3982,"color":"#fff"},{"offset":0.4005,"color":"#777"},{"offset":0.4028,"color":"#fff"},
    {"offset":0.4072,"color":"#fff"},{"offset":0.4095,"color":"#777"},{"offset":0.4118,"color":"#fff"},
    {"offset":0.4162,"color":"#fff"},{"offset":0.4185,"color":"#777"},{"offset":0.4208,"color":"#fff"},
    {"offset":0.4252,"color":"#fff"},{"offset":0.4275,"color":"#777"},{"offset":0.4298,"color":"#fff"},
    {"offset":0.4342,"color":"#fff"},{"offset":0.4365,"color":"#777"},{"offset":0.4388,"color":"#fff"},
    {"offset":0.4432,"color":"#fff"},{"offset":0.4455,"color":"#777"},{"offset":0.4478,"color":"#fff"},
    {"offset":0.4522,"color":"#fff"},{"offset":0.4545,"color":"#777"},{"offset":0.4568,"color":"#fff"},
    {"offset":0.4612,"color":"#fff"},{"offset":0.4635,"color":"#777"},{"offset":0.4658,"color":"#fff"},
    {"offset":0.4702,"color":"#fff"},{"offset":0.4725,"color":"#777"},{"offset":0.4748,"color":"#fff"},
    {"offset":0.4792,"color":"#fff"},{"offset":0.4815,"color":"#777"},{"offset":0.4838,"color":"#fff"},
    {"offset":0.4882,"color":"#fff"},{"offset":0.4905,"color":"#777"},{"offset":0.4928,"color":"#fff"},
    {"offset":0.4972,"color":"#fff"},{"offset":0.4995,"color":"#777"},{"offset":0.5018,"color":"#fff"},
    {"offset":0.5062,"color":"#fff"},{"offset":0.5085,"color":"#777"},{"offset":0.5108,"color":"#fff"},
    {"offset":0.5152,"color":"#fff"},{"offset":0.5175,"color":"#777"},{"offset":0.5198,"color":"#fff"},
    {"offset":0.5242,"color":"#fff"},{"offset":0.5265,"color":"#777"},{"offset":0.5288,"color":"#fff"},
    {"offset":0.5332,"color":"#fff"},{"offset":0.5355,"color":"#777"},{"offset":0.5378,"color":"#fff"},
    {"offset":0.5422,"color":"#fff"},{"offset":0.5445,"color":"#777"},{"offset":0.5468,"color":"#fff"},
    {"offset":0.5512,"color":"#fff"},{"offset":0.5535,"color":"#777"},{"offset":0.5558,"color":"#fff"},
    {"offset":0.5602,"color":"#fff"},{"offset":0.5625,"color":"#777"},{"offset":0.5648,"color":"#fff"},
    {"offset":0.5692,"color":"#fff"},{"offset":0.5715,"color":"#777"},{"offset":0.5738,"color":"#fff"},
    {"offset":0.5782,"color":"#fff"},{"offset":0.5805,"color":"#777"},{"offset":0.5828,"color":"#fff"},
    {"offset":0.5872,"color":"#fff"},{"offset":0.5895,"color":"#777"},{"offset":0.5918,"color":"#fff"},
    {"offset":0.5962,"color":"#fff"},{"offset":0.5985,"color":"#777"},{"offset":0.6008,"color":"#fff"},
    {"offset":0.6052,"color":"#fff"},{"offset":0.6075,"color":"#777"},{"offset":0.6098,"color":"#fff"},
    {"offset":0.6142,"color":"#fff"},{"offset":0.6165,"color":"#777"},{"offset":0.6188,"color":"#fff"},
    {"offset":0.6232,"color":"#fff"},{"offset":0.6255,"color":"#777"},{"offset":0.6278,"color":"#fff"},
    {"offset":0.6322,"color":"#fff"},{"offset":0.6345,"color":"#777"},{"offset":0.6368,"color":"#fff"},
    {"offset":0.6412,"color":"#fff"},{"offset":0.6435,"color":"#777"},{"offset":0.6458,"color":"#fff"},
    {"offset":0.6502,"color":"#fff"},{"offset":0.6525,"color":"#777"},{"offset":0.6548,"color":"#fff"},
    {"offset":0.6592,"color":"#fff"},{"offset":0.6615,"color":"#777"},{"offset":0.6638,"color":"#fff"},
    {"offset":0.6682,"color":"#fff"},{"offset":0.6705,"color":"#777"},{"offset":0.6728,"color":"#fff"},
    {"offset":0.6772,"color":"#fff"},{"offset":0.6795,"color":"#777"},{"offset":0.6818,"color":"#fff"},
    {"offset":0.6862,"color":"#fff"},{"offset":0.6885,"color":"#777"},{"offset":0.6908,"color":"#fff"},
    {"offset":0.6952,"color":"#fff"},{"offset":0.6975,"color":"#777"},{"offset":0.6998,"color":"#fff"},
    {"offset":0.7042,"color":"#fff"},{"offset":0.7065,"color":"#777"},{"offset":0.7088,"color":"#fff"},
    {"offset":0.7132,"color":"#fff"},{"offset":0.7155,"color":"#777"},{"offset":0.7178,"color":"#fff"},
    {"offset":0.7222,"color":"#fff"},{"offset":0.7245,"color":"#777"},{"offset":0.7268,"color":"#fff"},
    {"offset":0.7312,"color":"#fff"},{"offset":0.7335,"color":"#777"},{"offset":0.7358,"color":"#fff"},
    {"offset":0.7402,"color":"#fff"},{"offset":0.7425,"color":"#777"},{"offset":0.7448,"color":"#fff"},
    {"offset":0.7492,"color":"#fff"},{"offset":0.7515,"color":"#777"},{"offset":0.7538,"color":"#fff"},
    {"offset":0.7582,"color":"#fff"},{"offset":0.7605,"color":"#777"},{"offset":0.7628,"color":"#fff"},
    {"offset":0.7672,"color":"#fff"},{"offset":0.7695,"color":"#777"},{"offset":0.7718,"color":"#fff"},
    {"offset":0.7762,"color":"#fff"},{"offset":0.7785,"color":"#777"},{"offset":0.7808,"color":"#fff"},
    {"offset":0.7852,"color":"#fff"},{"offset":0.7875,"color":"#777"},{"offset":0.7898,"color":"#fff"},
    {"offset":0.7942,"color":"#fff"},{"offset":0.7965,"color":"#777"},{"offset":0.7988,"color":"#fff"},
    {"offset":0.8032,"color":"#fff"},{"offset":0.8055,"color":"#777"},{"offset":0.8078,"color":"#fff"},
    {"offset":0.8122,"color":"#fff"},{"offset":0.8145,"color":"#777"},{"offset":0.8168,"color":"#fff"},
    {"offset":0.8212,"color":"#fff"},{"offset":0.8235,"color":"#777"},{"offset":0.8258,"color":"#fff"},
    {"offset":0.8302,"color":"#fff"},{"offset":0.8325,"color":"#777"},{"offset":0.8348,"color":"#fff"},
    {"offset":0.8392,"color":"#fff"},{"offset":0.8415,"color":"#777"},{"offset":0.8438,"color":"#fff"},
    {"offset":0.8482,"color":"#fff"},{"offset":0.8505,"color":"#777"},{"offset":0.8528,"color":"#fff"},
    {"offset":0.8572,"color":"#fff"},{"offset":0.8595,"color":"#777"},{"offset":0.8618,"color":"#fff"},
    {"offset":0.8662,"color":"#fff"},{"offset":0.8685,"color":"#777"},{"offset":0.8708,"color":"#fff"},
    {"offset":0.8752,"color":"#fff"},{"offset":0.8775,"color":"#777"},{"offset":0.8798,"color":"#fff"},
    {"offset":0.8842,"color":"#fff"},{"offset":0.8865,"color":"#777"},{"offset":0.8888,"color":"#fff"},
    {"offset":0.8932,"color":"#fff"},{"offset":0.8955,"color":"#777"},{"offset":0.8978,"color":"#fff"},
    {"offset":0.9022,"color":"#fff"},{"offset":0.9045,"color":"#777"},{"offset":0.9068,"color":"#fff"},
    {"offset":0.9112,"color":"#fff"},{"offset":0.9135,"color":"#777"},{"offset":0.9158,"color":"#fff"},
    {"offset":0.9202,"color":"#fff"},{"offset":0.9225,"color":"#777"},{"offset":0.9248,"color":"#fff"},
    {"offset":0.9292,"color":"#fff"},{"offset":0.9315,"color":"#777"},{"offset":0.9338,"color":"#fff"},
    {"offset":0.9382,"color":"#fff"},{"offset":0.9405,"color":"#777"},{"offset":0.9428,"color":"#fff"},
    {"offset":0.9472,"color":"#fff"},{"offset":0.9495,"color":"#777"},{"offset":0.9518,"color":"#fff"},
    {"offset":0.9562,"color":"#fff"},{"offset":0.9585,"color":"#777"},{"offset":0.9608,"color":"#fff"},
    {"offset":0.9652,"color":"#fff"},{"offset":0.9675,"color":"#777"},{"offset":0.9698,"color":"#fff"},
    {"offset":0.9742,"color":"#fff"},{"offset":0.9765,"color":"#777"},{"offset":0.9788,"color":"#fff"},
    {"offset":0.9832,"color":"#fff"},{"offset":0.9855,"color":"#777"},{"offset":0.9878,"color":"#fff"},
    {"offset":0.9922,"color":"#fff"},{"offset":0.9945,"color":"#777"},{"offset":0.9968,"color":"#fff"}]}},
   "encoding": {
    "x": {"field": "group", "type": "nominal", "scale": {"domain": ["SAM patterned|surface", "Micro-post structured|surface", "SAM pattern +|Micro-post surface"], "paddingInner": 0, "paddingOuter": 0}, "axis": null},
    "xOffset": {"field": "slot", "type": "nominal", "scale": {"domain": ["f", "t", "D"], "paddingInner": 0.2083, "paddingOuter": 0.5865}},
    "y": {"field": "value", "type": "quantitative", "scale": {"domain": [0, 2.5], "nice": false}, "axis": null}
   }
  },
  {
   "transform": [{"filter": "datum.series === 'Dd*'"}],
   "mark": {"type": "bar", "fill": "#000000", "stroke": "#000000", "strokeWidth": 1},
   "encoding": {
    "x": {"field": "group", "type": "nominal", "scale": {"domain": ["SAM patterned|surface", "Micro-post structured|surface", "SAM pattern +|Micro-post surface"], "paddingInner": 0, "paddingOuter": 0}, "axis": null},
    "xOffset": {"field": "slot", "type": "nominal", "scale": {"domain": ["f", "t", "D"], "paddingInner": 0.2083, "paddingOuter": 0.5865}},
    "y": {"field": "value", "type": "quantitative", "scale": {"domain": [0, 2.5], "nice": false}, "axis": null}
   }
  },
  {
   "data": {"values": [{"ref": 1}]},
   "mark": {"type": "rule", "color": "#ff0000", "strokeWidth": 3.5, "strokeDash": [10, 4]},
   "encoding": {
    "y": {"field": "ref", "type": "quantitative", "scale": {"domain": [0, 2.5], "nice": false}, "axis": null}
   }
  },
  {
   "mark": {"type": "point", "filled": true, "opacity": 0},
   "encoding": {
    "x": {"field": "group", "type": "nominal", "scale": {"domain": ["SAM patterned|surface", "Micro-post structured|surface", "SAM pattern +|Micro-post surface"], "paddingInner": 0, "paddingOuter": 0},
     "axis": {"orient": "top", "bandPosition": 0, "labels": false, "domain": false, "tickSize": -8, "title": null}},
    "xOffset": {"field": "slot", "type": "nominal", "scale": {"domain": ["f", "t", "D"], "paddingInner": 0.2083, "paddingOuter": 0.5865}},
    "y": {"field": "value", "type": "quantitative", "scale": {"domain": [0, 2.5], "nice": false},
     "axis": {"orient": "right", "values": [0, 0.25, 0.5, 0.75, 1, 1.25, 1.5, 1.75, 2, 2.25, 2.5], "labels": false, "domain": false, "title": null, "tickSize": {"condition": {"test": "datum.value % 0.5 == 0", "value": -9}, "value": -5}}},
    "shape": {"field": "series", "type": "nominal",
     "scale": {"domain": ["f*", "tg*", "tw*", "Dd*"], "range": [
      "M-2.25,-0.85H2.25V0.85H-2.25Z M-2.25,-0.48L-1.88,-0.85 M-2.25,-0.09L-1.49,-0.85 M-2.25,0.3L-1.1,-0.85 M-2.25,0.69L-0.71,-0.85 M-2.02,0.85L-0.32,-0.85 M-1.63,0.85L0.07,-0.85 M-1.24,0.85L0.46,-0.85 M-0.85,0.85L0.85,-0.85 M-0.46,0.85L1.24,-0.85 M-0.07,0.85L1.63,-0.85 M0.32,0.85L2.02,-0.85 M0.71,0.85L2.25,-0.69 M1.1,0.85L2.25,-0.3 M1.49,0.85L2.25,0.09 M1.88,0.85L2.25,0.48",
      "M-2.25,-0.85H2.25V0.85H-2.25Z M-2.25,-0.42H2.25 M-2.25,0H2.25 M-2.25,0.42H2.25",
      "M-2.25,-0.85H2.25V0.85H-2.25Z",
      "M-2.25,-0.85H2.25V0.85H-2.25Z"]},
     "legend": {"orient": "none", "legendX": 38, "legendY": 5.5, "title": null, "padding": 0, "symbolSize": 400, "symbolStrokeWidth": 1, "symbolOpacity": 1, "labelFont": "Liberation Serif", "labelFontStyle": "italic", "labelFontSize": 21, "labelColor": "black", "labelOffset": 16, "rowPadding": 12, "labelBaseline": "middle"}},
    "fill": {"field": "series", "type": "nominal",
     "scale": {"domain": ["f*", "tg*", "tw*", "Dd*"], "range": ["#ffffff", "#ffffff", "#ffffff", "#000000"]},
     "legend": {"orient": "none", "legendX": 38, "legendY": 5.5, "title": null, "padding": 0, "symbolSize": 400, "symbolStrokeWidth": 1, "symbolOpacity": 1, "labelFont": "Liberation Serif", "labelFontStyle": "italic", "labelFontSize": 21, "labelColor": "black", "labelOffset": 16, "rowPadding": 12, "labelBaseline": "middle"}},
    "stroke": {"field": "series", "type": "nominal",
     "scale": {"domain": ["f*", "tg*", "tw*", "Dd*"], "range": ["#666666", "#222222", "#555555", "#000000"]},
     "legend": {"orient": "none", "legendX": 38, "legendY": 5.5, "title": null, "padding": 0, "symbolSize": 400, "symbolStrokeWidth": 1, "symbolOpacity": 1, "labelFont": "Liberation Serif", "labelFontStyle": "italic", "labelFontSize": 21, "labelColor": "black", "labelOffset": 16, "rowPadding": 12, "labelBaseline": "middle"}}
   }
  }
 ]
}
